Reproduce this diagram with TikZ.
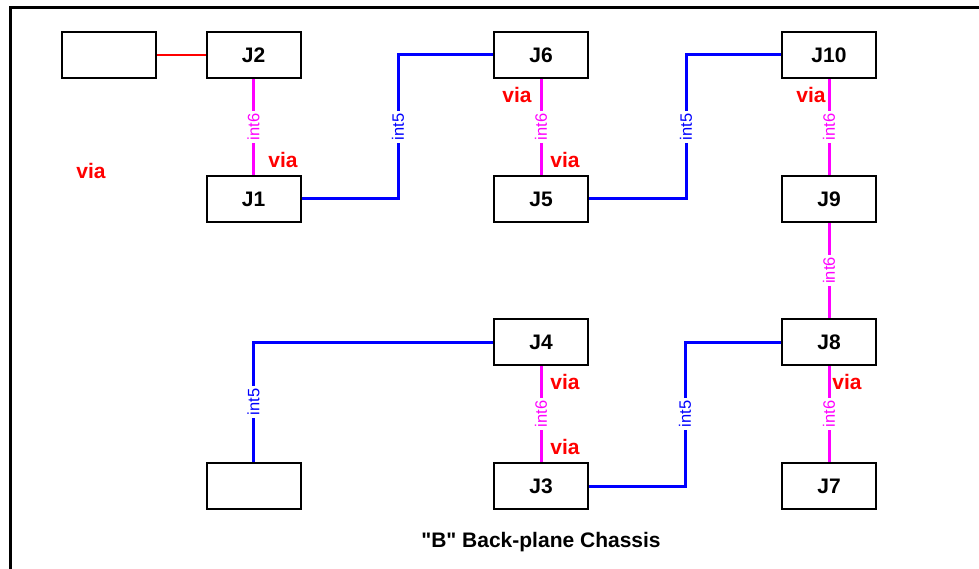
\documentclass[tikz,border=0pt]{standalone}
\usepackage{fontspec}
\setmainfont{Liberation Sans}
\definecolor{mag}{RGB}{255,0,255}
\definecolor{blu}{RGB}{0,0,255}
\definecolor{rd}{RGB}{255,0,0}
\begin{document}
\begin{tikzpicture}[x=1pt,y=-1pt,
  box/.style={draw=black,line width=2pt,fill=white,minimum width=94pt,minimum height=46pt,inner sep=0pt,font=\fontsize{21}{24}\selectfont\bfseries},
  magline/.style={draw=mag,line width=3pt},
  bluline/.style={draw=blu,line width=3pt},
  redline/.style={draw=rd,line width=1.5pt},
  labsix/.style={fill=white,text=mag,rotate=90,inner sep=2.5pt,font=\fontsize{16.5}{19}\selectfont},
  labfive/.style={fill=white,text=blu,rotate=90,inner sep=2.5pt,font=\fontsize{16.5}{19}\selectfont},
  vialab/.style={text=rd,inner sep=0pt,font=\fontsize{21}{24}\selectfont\bfseries},
  frameline/.style={draw=black,line width=3pt}]
\useasboundingbox (0,0) rectangle (979,569);
% frame
\coordinate (fbl) at (10.5,569);
\coordinate (ftl) at (10.5,8);
\coordinate (ftr) at (979,8);
\draw[frameline] (fbl) -- (ftl) -- (ftr);
% boxes
\node[box] (B1) at (109,55) {};
\node[box] (J2) at (253.5,55) {J2};
\node[box] (J1) at (253.5,199) {J1};
\node[box] (J6) at (541,55) {J6};
\node[box] (J5) at (541,199) {J5};
\node[box] (J10) at (829,55) {J10};
\node[box] (J9) at (829,199) {J9};
\node[box] (J8) at (829,342) {J8};
\node[box] (J7) at (829,486) {J7};
\node[box] (J4) at (541,342) {J4};
\node[box] (J3) at (541,486) {J3};
\node[box] (B2) at (253.5,486) {};
% corner coordinates
\coordinate (k1) at (398,127);
\coordinate (k2) at (686,127);
\coordinate (k3) at (685,414);
\coordinate (k4) at (253.5,402);
% connectors
\draw[redline] (B1.east) -- (J2.west);
\draw[magline] (J2.south) -- node[labsix]{int6} (J1.north);
\draw[magline] (J6.south) -- node[labsix]{int6} (J5.north);
\draw[magline] (J10.south) -- node[labsix]{int6} (J9.north);
\draw[magline] (J9.south) -- node[labsix]{int6} (J8.north);
\draw[magline] (J8.south) -- node[labsix]{int6} (J7.north);
\draw[magline] (J4.south) -- node[labsix]{int6} (J3.north);
\draw[bluline] (J1.east) -| (k1) |- (J6.west);
\draw[bluline] (J5.east) -| (k2) |- (J10.west);
\draw[bluline] (J8.west) -| (k3) |- (J3.east);
\draw[bluline] (J4.west) -| (B2.north);
\node[labfive] (L1) at (k1) {int5};
\node[labfive] (L2) at (k2) {int5};
\node[labfive] (L3) at (k3) {int5};
\node[labfive] (L4) at (k4) {int5};
% via labels
\node[vialab] (v0) at (91,171) {via};
\node[vialab] (v1) at (283,160) {via};
\node[vialab] (v2) at (517,95) {via};
\node[vialab] (v3) at (565,160) {via};
\node[vialab] (v4) at (811,95) {via};
\node[vialab] (v5) at (847,382) {via};
\node[vialab] (v6) at (565,382) {via};
\node[vialab] (v7) at (565,447) {via};
% title
\node[font=\fontsize{21}{24}\selectfont\bfseries,inner sep=0pt] (title) at (541,542) {\textquotedbl B\textquotedbl{} Back-plane Chassis};
\end{tikzpicture}
\end{document}
